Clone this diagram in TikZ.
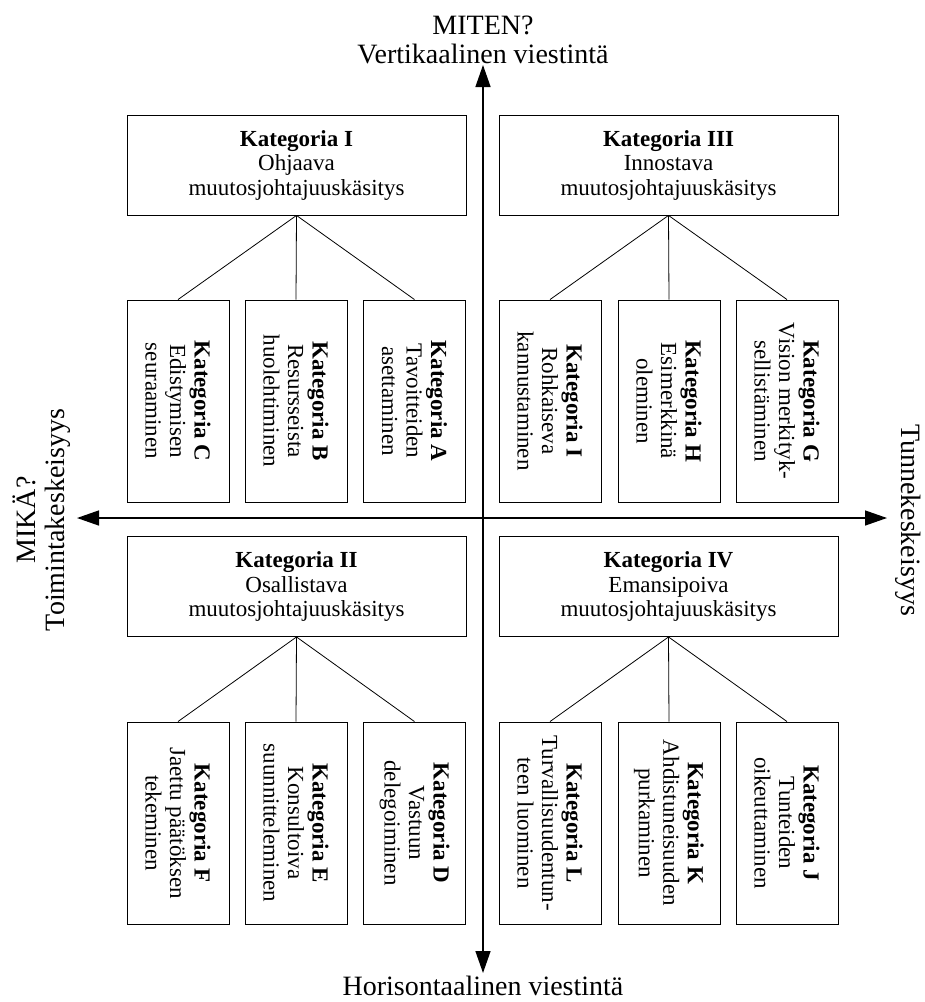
\documentclass[tikz,border=0pt]{standalone}
\usepackage{fontspec}
\setmainfont{Liberation Serif}
\usetikzlibrary{arrows.meta}

\tikzset{
  axis/.style={{Triangle[length=22pt,width=15pt]}-{Triangle[length=22pt,width=15pt]}, line width=1.4pt},
  axislabel/.style={align=center, inner sep=0pt, font=\fontsize{28}{29}\selectfont},
  mainbox/.style={draw, line width=0.9pt, minimum width=339pt, minimum height=100pt, inner sep=0pt, align=center, font=\fontsize{23}{24.5}\selectfont},
  subbox/.style={draw, line width=0.9pt, rotate=-90, minimum width=202pt, minimum height=102pt, inner sep=0pt, align=center, font=\fontsize{23}{24.5}\selectfont},
  link/.style={line width=0.8pt}
}

\begin{document}
\begin{tikzpicture}[x=1pt,y=-1pt]
\useasboundingbox (0,0) rectangle (925,1002);
% akselit
\coordinate (vtop) at (483,65);
\coordinate (vbot) at (483,973);
\coordinate (hleft) at (77,518);
\coordinate (hright) at (887,518);
\draw[axis] (vbot) -- (vtop);
\draw[axis] (hleft) -- (hright);
\node[axislabel] (miten) at (483,40) {MITEN?\\Vertikaalinen viestintä};
\node[axislabel] (horis) at (483,986) {Horisontaalinen viestintä};
\node[axislabel, rotate=90] (mika) at (42,520) {MIKÄ?\\Toimintakeskeisyys};
\node[axislabel, rotate=-90] (tunne) at (908,520) {Tunnekeskeisyys};
% paakategoriat
\node[mainbox] (katI) at (296.5,165) {\textbf{Kategoria I}\\Ohjaava\\muutosjohtajuuskäsitys};
\node[mainbox] (katIII) at (668.5,165) {\textbf{Kategoria III}\\Innostava\\muutosjohtajuuskäsitys};
\node[mainbox] (katII) at (296.5,586.5) {\textbf{Kategoria II}\\Osallistava\\muutosjohtajuuskäsitys};
\node[mainbox] (katIV) at (668.5,586.5) {\textbf{Kategoria IV}\\Emansipoiva\\muutosjohtajuuskäsitys};
% alakategoriat
\foreach \name/\x/\y/\txt in {
  subC/178/401/{\textbf{Kategoria C}\\Edistymisen\\seuraaminen},
  subB/296/401/{\textbf{Kategoria B}\\Resursseista\\huolehtiminen},
  subA/414.5/401/{\textbf{Kategoria A}\\Tavoitteiden\\asettaminen},
  subI/550/401/{\textbf{Kategoria I}\\Rohkaiseva\\kannustaminen},
  subH/669/401/{\textbf{Kategoria H}\\Esimerkkinä\\oleminen},
  subG/787/401/{\textbf{Kategoria G}\\Vision merkityk-\\sellistäminen},
  subF/178/823/{\textbf{Kategoria F}\\Jaettu päätöksen\\tekeminen},
  subE/296/823/{\textbf{Kategoria E}\\Konsultoiva\\suunnitteleminen},
  subD/414.5/823/{\textbf{Kategoria D}\\Vastuun\\delegoiminen},
  subL/550/823/{\textbf{Kategoria L}\\Turvallisuudentun-\\teen luominen},
  subK/669/823/{\textbf{Kategoria K}\\Ahdistuneisuuden\\purkaminen},
  subJ/787/823/{\textbf{Kategoria J}\\Tunteiden\\oikeuttaminen}}
  \node[subbox] (\name) at (\x,\y) {\txt};
% yhteydet
\foreach \p/\c in {katI/subC, katI/subB, katI/subA, katIII/subI, katIII/subH, katIII/subG,
  katII/subF, katII/subE, katII/subD, katIV/subL, katIV/subK, katIV/subJ}
  \draw[link] (\p.south) -- (\c.west);
\end{tikzpicture}
\end{document}
